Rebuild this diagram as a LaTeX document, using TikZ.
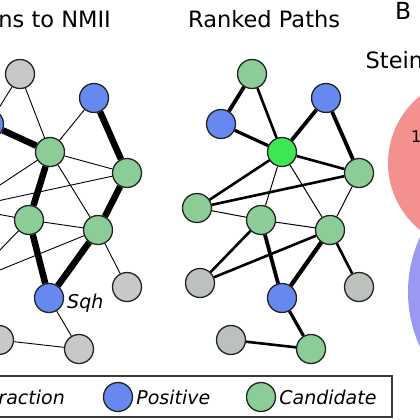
\documentclass[tikz,border=0pt]{standalone}
\usepackage{fontspec}
\setmainfont{DejaVu Sans}
\usetikzlibrary{positioning}
\definecolor{candgreen}{HTML}{8CCC96}
\definecolor{posblue}{HTML}{6688F0}
\definecolor{othgray}{HTML}{C8C8C8}
\definecolor{midgray}{HTML}{BCC1BD}
\definecolor{hubgreen}{HTML}{3DE655}
\definecolor{nodeline}{HTML}{1C261C}
\definecolor{vennred}{HTML}{F49090}
\definecolor{vennblue}{HTML}{9A9AF5}
\definecolor{frame}{HTML}{3A3A3A}

\begin{document}
\begin{tikzpicture}[x=1pt,y=-1pt,
    netnode/.style={circle, draw=nodeline, line width=1.3pt, minimum size=29pt, inner sep=0pt},
    titletext/.style={inner sep=0pt, font=\fontsize{22.5}{27}\selectfont},
    keytext/.style={inner sep=0pt, font=\fontsize{19}{23}\selectfont\itshape}]
    \useasboundingbox (0,0) rectangle (420,420);
    \clip (0,0) rectangle (420,420);

    % Venn circles (panel B, cut off at the right)
    \fill[vennred] (474,163) circle (86);
    \fill[vennblue] (540,292) circle (132);
    \node[anchor=base west, inner sep=0pt, font=\fontsize{16}{19}\selectfont] (venncount) at (411,142) {1};

    % Titles
    \node[titletext, anchor=base east] (titleleft) at (111,28) {ns to NMII};
    \node[titletext, anchor=base west] (titlemid) at (188,28) {Ranked Paths};
    \node[anchor=base west, inner sep=0pt, font=\fontsize{23.5}{28}\selectfont] (panelb) at (395,20) {B};
    \node[titletext, anchor=base west] (steinlbl) at (365.5,68) {Stein};

    % Left network nodes
    \foreach \n/\x/\y/\c in {1/20/74/othgray, 2/-11/124/posblue, 3/94/98/posblue,
        4/50/152/candgreen, 5/127/173/candgreen, 6/-35/208/candgreen,
        7/29/220/candgreen, 8/98/230/candgreen, 9/-32/283/othgray,
        10/49/298/posblue, 11/127/287/othgray, 12/-1/340/othgray, 13/79/349/othgray}
        \node[netnode, fill=\c] (a\n) at (\x,\y) {};

    % Left network: path through Sqh
    \foreach \u/\v in {2/4, 4/7, 7/10, 10/8, 8/5, 5/3}
        \draw[line width=6.5pt] (a\u) -- (a\v);
    % Left network: other interactions
    \foreach \u/\v in {1/2, 1/4, 3/4, 4/5, 4/6, 5/6, 4/8, 6/7, 7/8, 7/9, 8/9, 8/11, 10/13, 12/13}
        \draw[line width=0.9pt] (a\u) -- (a\v);
    \node[keytext, anchor=base west] (sqhlbl) at (67,308) {Sqh};

    % Ranked network nodes
    \foreach \n/\x/\y/\c in {1/252/74/candgreen, 2/221/124/posblue, 3/326/98/posblue,
        4/282/152/hubgreen, 5/359/173/candgreen, 6/197/208/candgreen,
        7/261/220/candgreen, 8/330/230/candgreen, 9/200/283/midgray,
        10/282/298/posblue, 11/359/287/midgray, 12/231/340/midgray, 13/311/349/candgreen}
        \node[netnode, fill=\c] (b\n) at (\x,\y) {};

    % Ranked network edges, width by rank
    \foreach \u/\v/\w in {1/2/3.8pt, 1/4/2.6pt, 2/4/3.2pt, 3/4/3.8pt, 3/5/3.8pt, 4/5/2.6pt,
        4/6/2.6pt, 5/6/2.6pt, 4/7/1pt, 4/8/1pt, 5/8/1pt, 6/7/1pt, 7/8/1pt,
        7/9/2.6pt, 8/9/2.6pt, 7/10/3.8pt, 8/10/4.3pt, 8/11/2.6pt, 10/13/3.2pt, 12/13/2.6pt}
        \draw[line width=\w] (b\u) -- (b\v);

    % Legend
    \draw[frame, line width=1.8pt] (-10,376) rectangle (392,417);
    \node[keytext, anchor=base east] (keyint) at (65,404) {eraction};
    \node[netnode, fill=posblue] (keypos) at (118,397) {};
    \node[keytext, right=3pt of keypos] (keyposlbl) {Positive};
    \node[netnode, fill=candgreen] (keycand) at (261,397) {};
    \node[keytext, right=3pt of keycand] (keycandlbl) {Candidate};

\end{tikzpicture}
\end{document}
